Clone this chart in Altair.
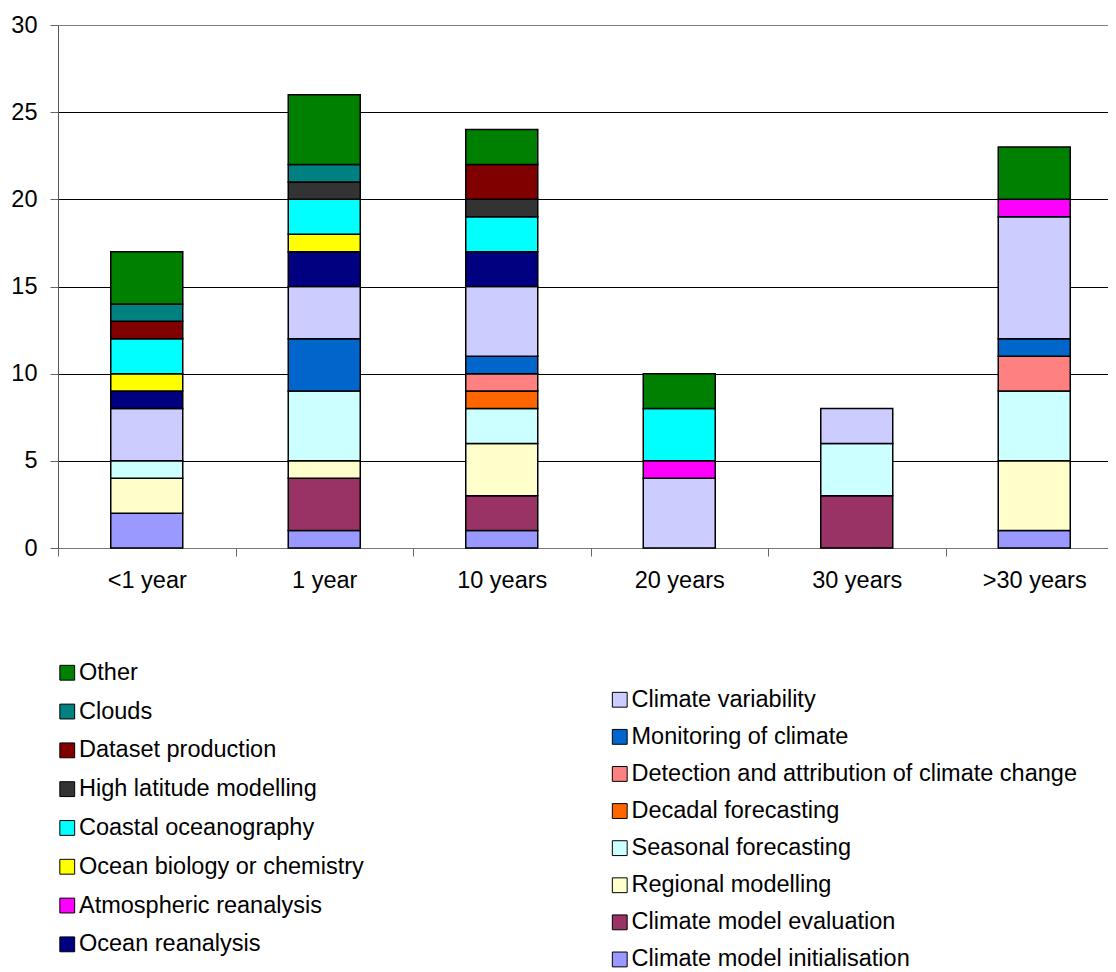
import altair as alt
import pandas as pd

categories = ["<1 year", "1 year", "10 years", "20 years", "30 years", ">30 years"]

# series listed from bottom of stack to top
series_names = [
    "Climate model initialisation",
    "Climate model evaluation",
    "Regional modelling",
    "Seasonal forecasting",
    "Decadal forecasting",
    "Detection and attribution of climate change",
    "Monitoring of climate",
    "Climate variability",
    "Ocean reanalysis",
    "Atmospheric reanalysis",
    "Ocean biology or chemistry",
    "Coastal oceanography",
    "High latitude modelling",
    "Dataset production",
    "Clouds",
    "Other",
]

init = [2, 1, 1, 0, 0, 1]
evaluation = [0, 3, 2, 0, 3, 0]
regional = [2, 1, 3, 0, 0, 4]
seasonal = [1, 4, 2, 0, 3, 4]
decadal = [0, 0, 1, 0, 0, 0]
detection = [0, 0, 1, 0, 0, 2]
monitoring = [0, 3, 1, 0, 0, 1]
variability = [3, 3, 4, 4, 2, 7]
ocean_rean = [1, 2, 2, 0, 0, 0]
atmos_rean = [0, 0, 0, 1, 0, 1]
ocean_bio = [1, 1, 0, 0, 0, 0]
coastal = [2, 2, 2, 3, 0, 0]
high_lat = [0, 1, 1, 0, 0, 0]
dataset = [1, 0, 2, 0, 0, 0]
clouds = [1, 1, 0, 0, 0, 0]
other = [3, 4, 2, 2, 0, 3]

series_values = [init, evaluation, regional, seasonal, decadal, detection,
                 monitoring, variability, ocean_rean, atmos_rean, ocean_bio,
                 coastal, high_lat, dataset, clouds, other]

series_colors = [
    "#9999FF", "#993366", "#FFFFCC", "#CCFFFF", "#FF6600", "#FF8080",
    "#0066CC", "#CCCCFF", "#000080", "#FF00FF", "#FFFF00", "#00FFFF",
    "#333333", "#800000", "#008080", "#008000",
]

rows = []
for i, (name, vals) in enumerate(zip(series_names, series_values)):
    for cat, v in zip(categories, vals):
        if v > 0:
            rows.append({"cat": cat, "series": name, "value": v, "order": i,
                         "group": "left" if i >= 8 else "right"})
df = pd.DataFrame(rows)

left_names = series_names[8:][::-1]
left_colors = series_colors[8:][::-1]
right_names = series_names[:8][::-1]
right_colors = series_colors[:8][::-1]

FONT = "Liberation Sans"
FS = 23.5

base = alt.Chart(df).transform_stack(
    stack="value", as_=["y0", "y1"], groupby=["cat"],
    sort=[alt.SortField("order", order="ascending")],
)

x_enc = alt.X(
    "cat:N", sort=categories, title=None,
    scale=alt.Scale(paddingInner=0, paddingOuter=0, range=[0, 1065]),
    axis=alt.Axis(labelAngle=0, tickBand="extent", tickSize=8, tickColor="#666666",
                  domainColor="#777777", labelFont=FONT, labelFontSize=FS,
                  labelColor="black", labelPadding=12, grid=False),
)
y_enc = alt.Y(
    "y0:Q", title=None,
    scale=alt.Scale(domain=[0, 30], nice=False),
    axis=alt.Axis(values=[0, 5, 10, 15, 20, 25, 30], tickSize=8, tickColor="#666666",
                  domainColor="#555555", labelFont=FONT, labelFontSize=FS,
                  labelColor="black", labelPadding=13, grid=True,
                  gridColor={"condition": {"test": "datum.value === 30", "value": "#808080"},
                             "value": "#000000"},
                  gridWidth=1.2),
)


def legend(x, y, pad):
    return alt.Legend(
        orient="none", legendX=x, legendY=y, direction="vertical", title=None,
        symbolType="square", symbolSize=220, symbolStrokeColor="black",
        symbolStrokeWidth=1, symbolOpacity=1, labelFont=FONT, labelFontSize=FS,
        labelColor="black", rowPadding=pad, labelOffset=0, labelLimit=700,
    )


left_layer = base.transform_filter(alt.datum.group == "left").mark_bar(
    width=72, stroke="black", strokeWidth=1.5, opacity=1
).encode(
    x=x_enc, y=y_enc, y2="y1:Q",
    color=alt.Color("series:N", scale=alt.Scale(domain=left_names, range=left_colors),
                    legend=legend(-2.5, 636, 13.8)),
)

right_layer = base.transform_filter(alt.datum.group == "right").mark_bar(
    width=72, stroke="black", strokeWidth=1.5, opacity=1
).encode(
    x=x_enc, y=y_enc, y2="y1:Q",
    color=alt.Color("series:N", scale=alt.Scale(domain=right_names, range=right_colors),
                    legend=legend(550, 663, 12.1)),
)

chart = alt.layer(right_layer, left_layer).resolve_scale(color="independent").properties(
    width=1050, height=523,
    autosize=alt.AutoSizeParams(type="none"),
    padding={"left": 50, "top": 17, "right": 0, "bottom": 422},
    background="white",
).configure_view(stroke=None)

chart.save("out.html", embed_options={"renderer": "svg", "actions": False})
